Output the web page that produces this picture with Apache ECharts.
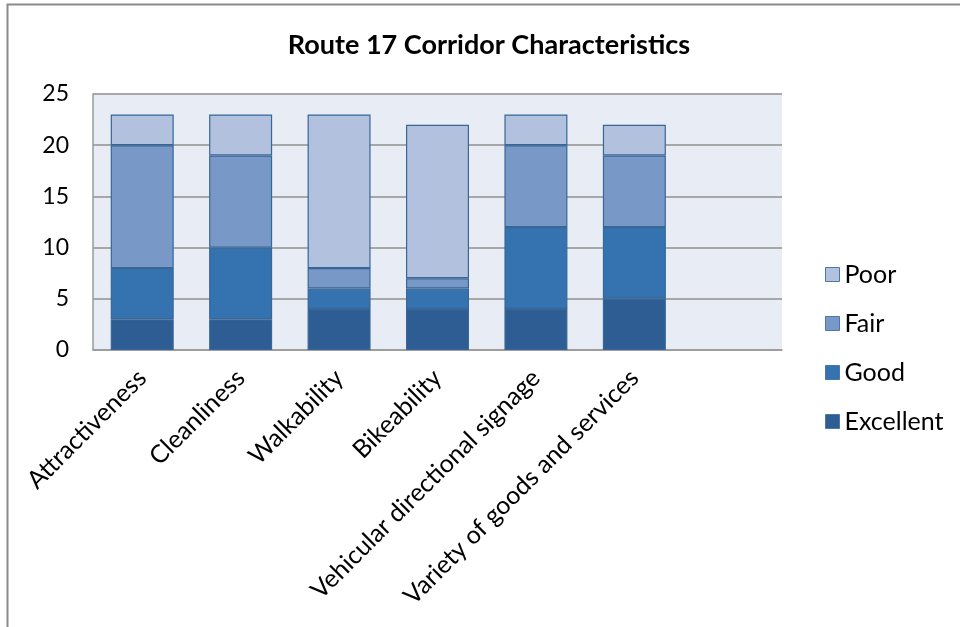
<!DOCTYPE html>
<html>
<head>
<meta charset="utf-8">
<script src="https://cdn.jsdelivr.net/npm/echarts@6/dist/echarts.min.js"></script>
<style>
  html, body { margin: 0; padding: 0; background: #fff; }
  #chart { width: 960px; height: 627px; }
</style>
</head>
<body>
<div id="chart"></div>
<script>
// Survey ratings per corridor characteristic (number of responses)
const categories = ['Attractiveness', 'Cleanliness', 'Walkability', 'Bikeability',
  'Vehicular directional signage', 'Variety of goods and services', ''];
const excellent = [3, 3, 4, 4, 4, 5];
const good      = [5, 7, 2, 2, 8, 7];
const fair      = [12, 9, 2, 1, 8, 7];
const poor      = [3, 4, 15, 15, 3, 3];
const yTicks = { min: 0, max: 25, interval: 5 };

const FONT = 'Lato';
const colors = {
  Excellent: '#2d5d92',
  Good: '#3473b0',
  Fair: '#7899c8',
  Poor: '#b2c2de'
};

function barSeries(name, values) {
  return {
    name: name,
    type: 'bar',
    stack: 'total',
    barWidth: '64%',
    data: values,
    itemStyle: { color: colors[name], borderColor: '#376697', borderWidth: 1.2 }
  };
}

const chart = echarts.init(document.getElementById('chart'), null, { renderer: 'canvas' });
chart.setOption({
  animation: false,
  backgroundColor: '#ffffff',
  textStyle: { fontFamily: FONT, color: '#000' },
  graphic: [{
    type: 'rect',
    shape: { x: 7.5, y: 4.5, width: 1000, height: 700 },
    style: { fill: 'none', stroke: '#8a8a8a', lineWidth: 2 },
    silent: true
  }],
  title: {
    text: 'Route 17 Corridor Characteristics',
    left: 484, top: 27, textAlign: 'center',
    textStyle: { fontFamily: FONT, fontWeight: 'bold', fontSize: 27, color: '#000' }
  },
  legend: {
    orient: 'vertical',
    left: 825, top: 262,
    padding: 0,
    data: ['Poor', 'Fair', 'Good', 'Excellent'],
    icon: 'rect',
    itemWidth: 14, itemHeight: 14, itemGap: 24,
    itemStyle: { borderColor: '#4a78aa', borderWidth: 1 },
    textStyle: { fontFamily: FONT, fontSize: 25, lineHeight: 25, color: '#000' }
  },
  grid: {
    left: 93, right: 178, top: 94, bottom: 277,
    show: true, backgroundColor: '#e8edf5', borderWidth: 0,
    containLabel: false
  },
  xAxis: {
    type: 'category',
    data: categories,
    axisLine: { show: true, lineStyle: { color: '#9a9a9a', width: 1.5 } },
    axisTick: { show: false },
    axisLabel: {
      interval: 0, rotate: 45, margin: 24,
      fontFamily: FONT, fontSize: 25, color: '#000'
    }
  },
  yAxis: {
    type: 'value',
    min: yTicks.min, max: yTicks.max, interval: yTicks.interval,
    axisLine: { show: true, lineStyle: { color: '#9a9a9a', width: 1.5 } },
    axisTick: { show: false },
    axisLabel: { margin: 24, fontFamily: FONT, fontSize: 23, color: '#000' },
    splitLine: { lineStyle: { color: '#8f8f8f', width: 1.5 } }
  },
  series: [
    barSeries('Excellent', excellent),
    barSeries('Good', good),
    barSeries('Fair', fair),
    barSeries('Poor', poor)
  ]
});
</script>
</body>
</html>
